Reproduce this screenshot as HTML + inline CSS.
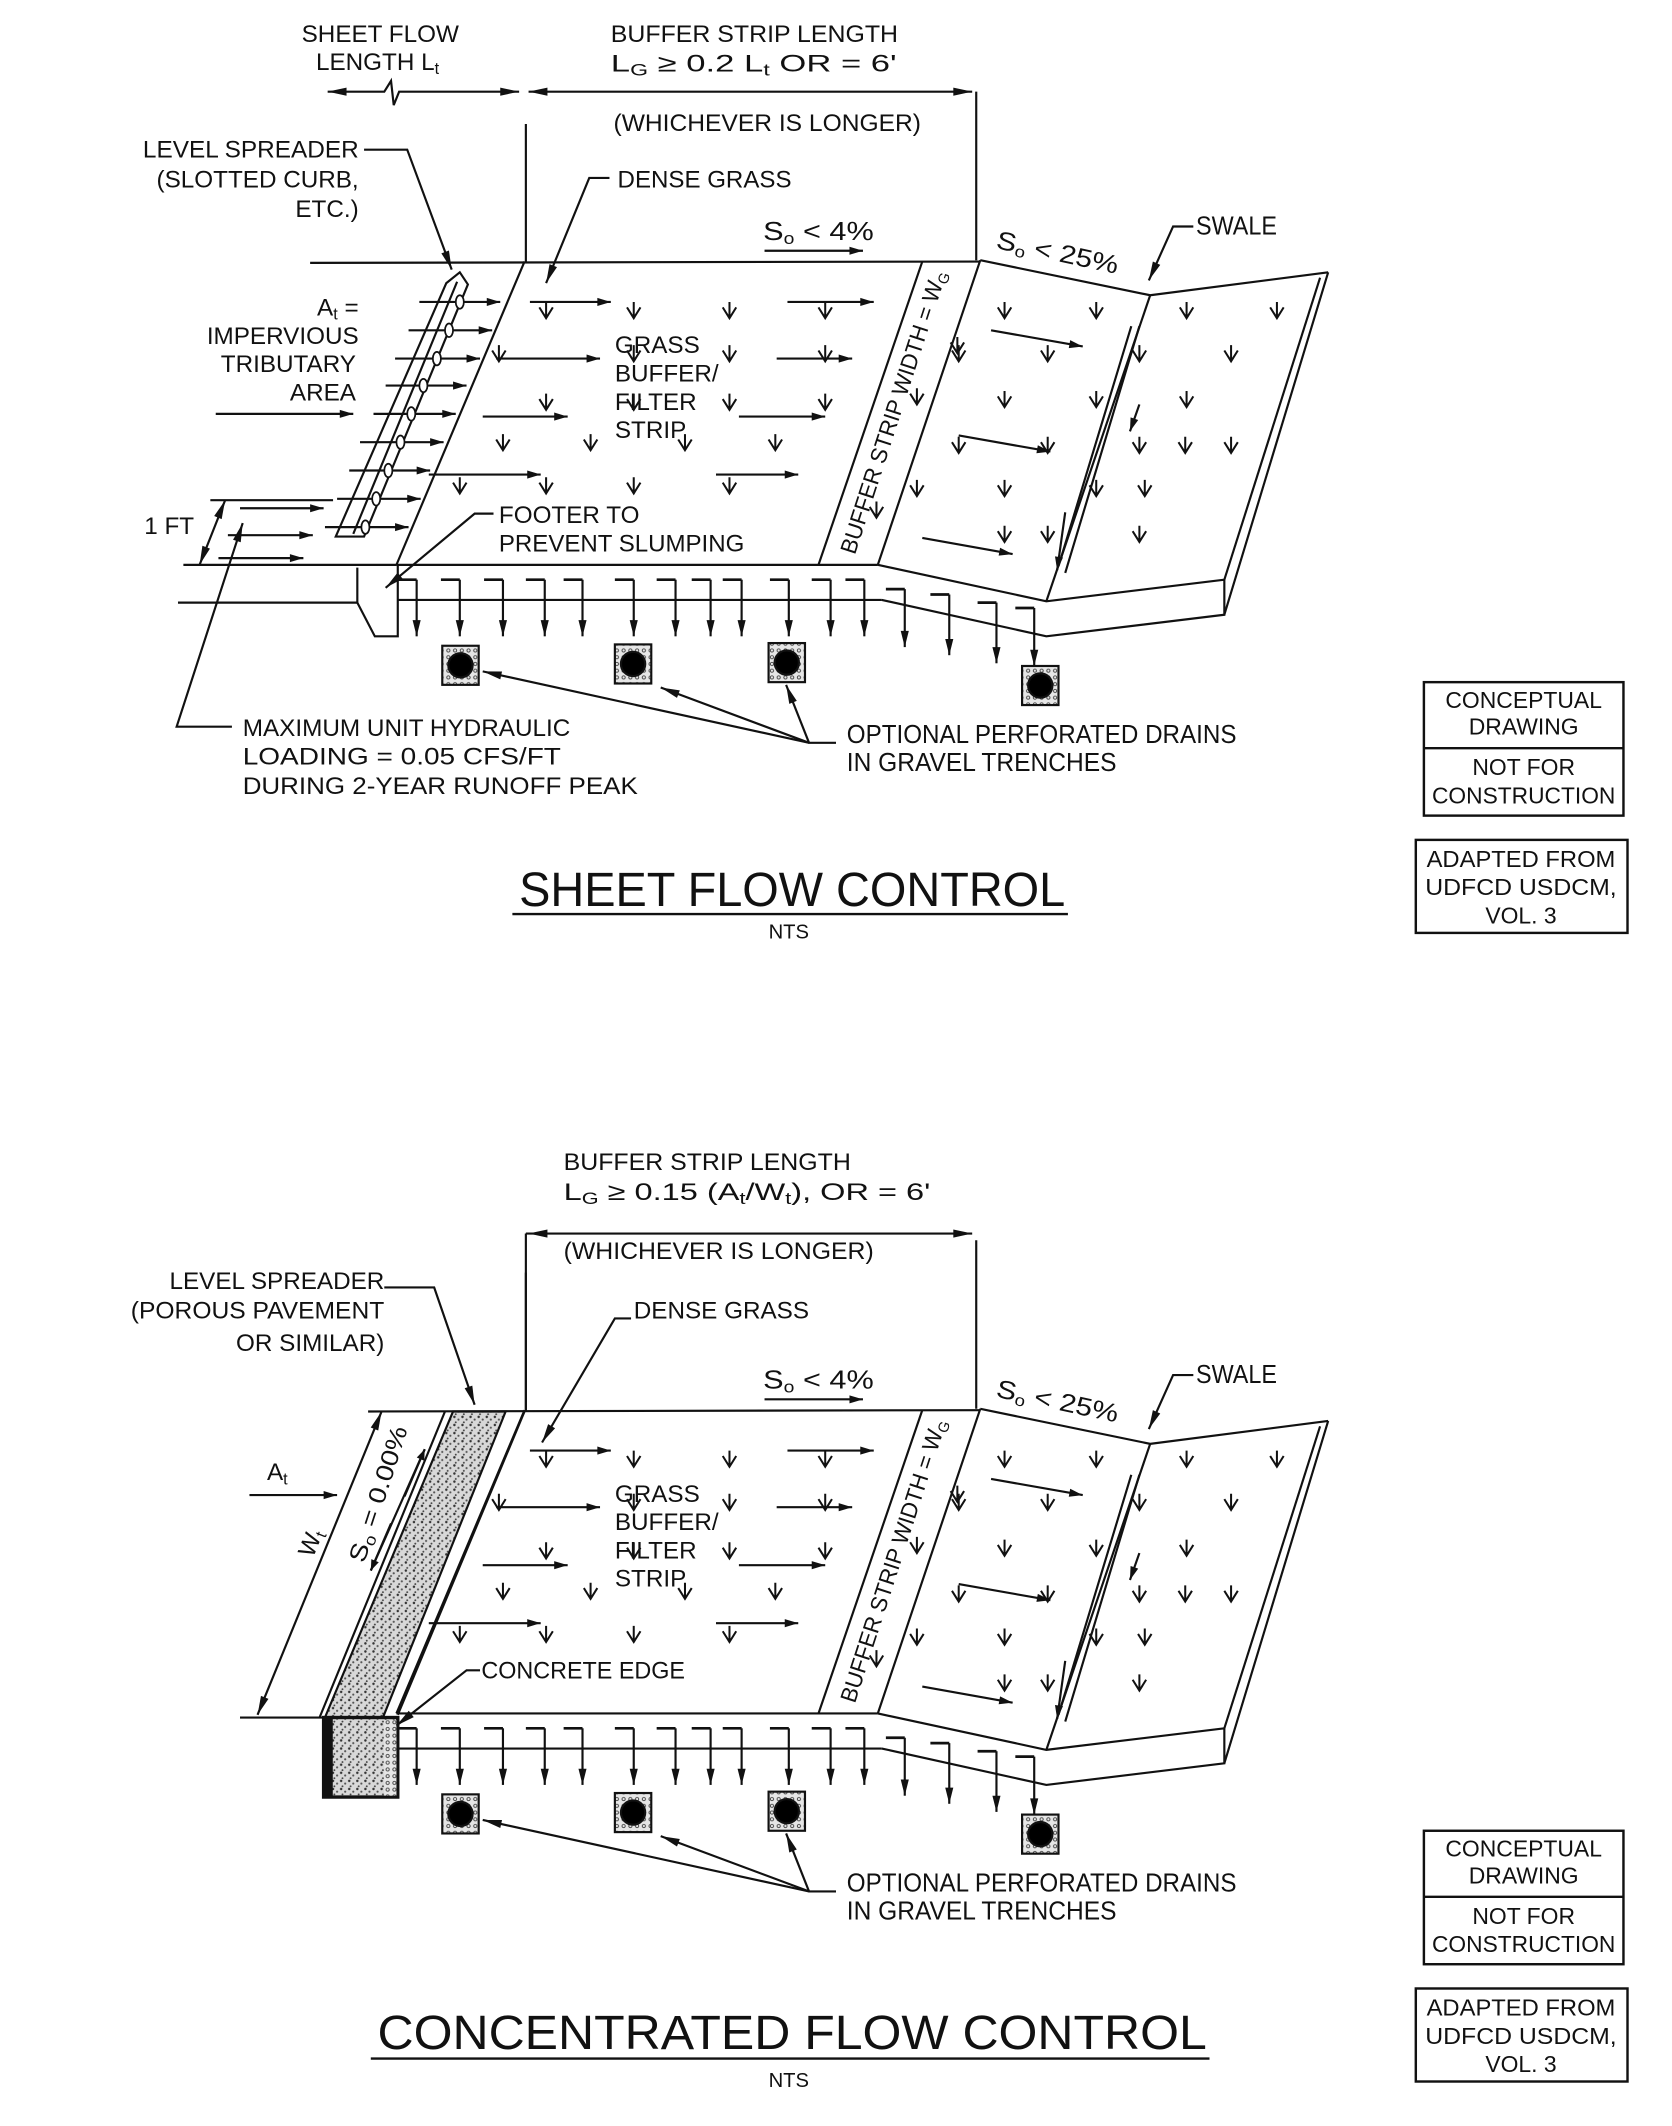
<!DOCTYPE html>
<html><head><meta charset="utf-8"><style>
html,body{margin:0;padding:0;background:#fff;}
svg{display:block;}
text{font-family:"Liberation Sans Narrow","Liberation Sans",sans-serif;fill:#111;}
</style></head><body>
<svg id="s" width="1672" height="2126" viewBox="0 0 1240 1577" preserveAspectRatio="none" xmlns="http://www.w3.org/2000/svg">
<defs>
<pattern id="st" width="6" height="6" patternUnits="userSpaceOnUse">
<rect width="6" height="6" fill="#d8d8d8"/>
<circle cx="1" cy="1" r="0.9" fill="#333"/><circle cx="4" cy="3" r="0.8" fill="#555"/><circle cx="2" cy="5" r="0.7" fill="#444"/>
</pattern>
<pattern id="gv" width="5" height="5" patternUnits="userSpaceOnUse">
<rect width="5" height="5" fill="#e6e6e6"/><circle cx="2.5" cy="2.5" r="1.2" fill="none" stroke="#444" stroke-width="0.7"/>
</pattern>
</defs>
<g id="shared" stroke="#111" stroke-width="1.6" fill="none">
<!-- grass strip & buffer lines -->
<line x1="389" y1="194" x2="294" y2="419"/>
<line x1="684" y1="194" x2="607" y2="419"/>
<line x1="727" y1="193" x2="651" y2="419"/>
<!-- swale -->
<polyline points="727,193 853,219 985,202"/>
<line x1="853" y1="219" x2="776" y2="446"/>
<line x1="985" y1="202" x2="908" y2="456"/>
<line x1="979" y1="206" x2="908" y2="430"/>
<polyline points="651,419 776,446 908,430 908,456 776,472 654,445"/>
<!-- ground -->
<line x1="294" y1="419" x2="651" y2="419"/>
<line x1="295" y1="445" x2="654" y2="445"/>
<!-- dim verticals -->
<line x1="390" y1="92" x2="390" y2="194"/>
<line x1="724" y1="68" x2="724" y2="193"/>
<!-- swale long arrow pair -->
<line x1="845" y1="242" x2="790" y2="425"/>
<line x1="839" y1="242" x2="785" y2="420"/>
<!-- drains -->
<g id="drains">
<rect x="328" y="479" width="27" height="29" fill="url(#gv)"/><circle cx="341.5" cy="493.5" r="9" fill="#000"/>
<rect x="456" y="478" width="27" height="29" fill="url(#gv)"/><circle cx="469.5" cy="492.5" r="9" fill="#000"/>
<rect x="570" y="477" width="27" height="29" fill="url(#gv)"/><circle cx="583.5" cy="491.5" r="9" fill="#000"/>
<rect x="758" y="494" width="27" height="29" fill="url(#gv)"/><circle cx="771.5" cy="508.5" r="9" fill="#000"/>
</g>
<!-- stamps -->
<rect x="1056" y="506" width="148" height="99" stroke-width="1.8"/>
<line x1="1056" y1="555" x2="1204" y2="555" stroke-width="1.8"/>
<rect x="1050" y="623" width="157" height="69" stroke-width="1.8"/>
</g>
<g id="sharedText" stroke="none">
<text x="566" y="178" font-size="19" textLength="82" lengthAdjust="spacingAndGlyphs">S<tspan font-size="12" dy="3">o</tspan><tspan dy="-3"> &lt; 4%</tspan></text>
<text x="738" y="184" font-size="19" transform="rotate(12 738 184)" textLength="92" lengthAdjust="spacingAndGlyphs">S<tspan font-size="12" dy="3">o</tspan><tspan dy="-3"> &lt; 25%</tspan></text>
<text x="887" y="174" font-size="19" textLength="60" lengthAdjust="spacingAndGlyphs">SWALE</text>
<text x="456" y="262" font-size="18">GRASS</text>
<text x="456" y="283" font-size="18">BUFFER/</text>
<text x="456" y="304" font-size="18">FILTER</text>
<text x="456" y="325" font-size="18">STRIP</text>
<text x="0" y="0" font-size="17" transform="translate(634,412) rotate(-72)" textLength="220" lengthAdjust="spacingAndGlyphs">BUFFER STRIP WIDTH = W<tspan font-size="11" dy="3">G</tspan></text>
<text x="628" y="551" font-size="19" textLength="289" lengthAdjust="spacingAndGlyphs">OPTIONAL PERFORATED DRAINS</text>
<text x="628" y="572" font-size="19" textLength="200" lengthAdjust="spacingAndGlyphs">IN GRAVEL TRENCHES</text>
<text x="1130" y="525" font-size="17" text-anchor="middle">CONCEPTUAL</text>
<text x="1130" y="545" font-size="17" text-anchor="middle">DRAWING</text>
<text x="1130" y="575" font-size="17" text-anchor="middle">NOT FOR</text>
<text x="1130" y="596" font-size="17" text-anchor="middle" textLength="136" lengthAdjust="spacingAndGlyphs">CONSTRUCTION</text>
<text x="1128" y="643" font-size="17" text-anchor="middle" textLength="140" lengthAdjust="spacingAndGlyphs">ADAPTED FROM</text>
<text x="1128" y="664" font-size="17" text-anchor="middle" textLength="142" lengthAdjust="spacingAndGlyphs">UDFCD USDCM,</text>
<text x="1128" y="685" font-size="17" text-anchor="middle">VOL. 3</text>
<text x="585" y="696" font-size="15" text-anchor="middle">NTS</text>
</g>
<g id="sharedArr"></g>

<!-- TOP SPECIFIC -->
<g stroke="#111" stroke-width="1.6" fill="none">
<line x1="230" y1="195" x2="727" y2="194"/>
<polygon points="331,210 341,202 347,211 270,398 249,398"/>
<line x1="339" y1="209" x2="262" y2="396"/>
<line x1="136" y1="419" x2="294" y2="419"/>
<polyline points="132,447 265,447 265,421"/>
<polyline points="265,447 278,472 295,472 295,419"/>
<line x1="156" y1="371" x2="247" y2="371"/>
<polyline points="270,111 302,111 335,200"/>
<polyline points="452,132 437,132 405,210"/>
<polyline points="366,381 352,381 286,436"/>
<polyline points="172,539 131,539 180,388"/>
<polyline points="620,551 600,551 358,498"/>
<line x1="600" y1="551" x2="490" y2="510"/>
<line x1="600" y1="551" x2="583" y2="508"/>
<polyline points="243,68 285,68 290,60 292,78 296,68 385,68"/>
<line x1="392" y1="68" x2="721" y2="68"/>
<line x1="380" y1="678" x2="792" y2="678" stroke-width="1.8"/>
</g>
<g id="topArr"></g>
<g stroke="none">
<text x="282" y="31" font-size="18" text-anchor="middle">SHEET FLOW</text>
<text x="280" y="52" font-size="18" text-anchor="middle">LENGTH L<tspan font-size="12" dy="3">t</tspan></text>
<text x="453" y="31" font-size="18" textLength="213" lengthAdjust="spacingAndGlyphs">BUFFER STRIP LENGTH</text>
<text x="453" y="53" font-size="18" textLength="212" lengthAdjust="spacingAndGlyphs">L<tspan font-size="12" dy="3">G</tspan><tspan dy="-3"> ≥ 0.2 L</tspan><tspan font-size="12" dy="3">t</tspan><tspan dy="-3"> OR = 6'</tspan></text>
<text x="455" y="97" font-size="18" textLength="228" lengthAdjust="spacingAndGlyphs">(WHICHEVER IS LONGER)</text>
<text x="106" y="117" font-size="18" textLength="160" lengthAdjust="spacingAndGlyphs">LEVEL SPREADER</text>
<text x="266" y="139" font-size="18" text-anchor="end">(SLOTTED CURB,</text>
<text x="266" y="161" font-size="18" text-anchor="end">ETC.)</text>
<text x="458" y="139" font-size="18" textLength="129" lengthAdjust="spacingAndGlyphs">DENSE GRASS</text>
<text x="266" y="234" font-size="18" text-anchor="end">A<tspan font-size="12" dy="3">t</tspan><tspan dy="-3"> =</tspan></text>
<text x="266" y="255" font-size="18" text-anchor="end">IMPERVIOUS</text>
<text x="264" y="276" font-size="18" text-anchor="end">TRIBUTARY</text>
<text x="264" y="297" font-size="18" text-anchor="end">AREA</text>
<text x="107" y="396" font-size="18">1 FT</text>
<text x="370" y="388" font-size="18">FOOTER TO</text>
<text x="370" y="409" font-size="18" textLength="182" lengthAdjust="spacingAndGlyphs">PREVENT SLUMPING</text>
<text x="180" y="546" font-size="18" textLength="243" lengthAdjust="spacingAndGlyphs">MAXIMUM UNIT HYDRAULIC</text>
<text x="180" y="567" font-size="18" textLength="236" lengthAdjust="spacingAndGlyphs">LOADING = 0.05 CFS/FT</text>
<text x="180" y="589" font-size="18" textLength="293" lengthAdjust="spacingAndGlyphs">DURING 2-YEAR RUNOFF PEAK</text>
<text x="385" y="672" font-size="36" textLength="405" lengthAdjust="spacingAndGlyphs" font-family="Liberation Sans" style="font-weight:300">SHEET FLOW CONTROL</text>
</g>

<!-- BOTTOM -->
<use href="#shared" transform="translate(0,852)"/>
<use href="#sharedText" transform="translate(0,852)"/>
<use href="#sharedArr" transform="translate(0,852)"/>
<g stroke="#111" stroke-width="1.6" fill="none">
<line x1="273" y1="1047" x2="727" y2="1046"/>
<polygon points="336,1047 375,1047 284,1274 241,1274" fill="url(#st)"/>
<line x1="330" y1="1047" x2="237" y2="1274"/>
<line x1="389" y1="1047" x2="295" y2="1272"/>
<rect x="240" y="1274" width="55" height="59" fill="url(#st)" stroke-width="2.5"/>
<rect x="240" y="1274" width="6" height="59" fill="#111"/>
<rect x="285" y="1276" width="9" height="56" fill="url(#gv)" stroke="none"/>
<line x1="178" y1="1274" x2="240" y2="1274"/>
<line x1="283" y1="1047" x2="191" y2="1272"/>
<line x1="315" y1="1075" x2="275" y2="1165"/>
<polyline points="356,1239 346,1239 294,1280"/>
<polyline points="285,955 322,955 352,1042"/>
<polyline points="468,978 456,978 402,1070"/>
<line x1="390" y1="915" x2="721" y2="915"/>
<line x1="390" y1="915" x2="390" y2="1047"/>
<polyline points="620,1403 600,1403 358,1350"/>
<line x1="600" y1="1403" x2="490" y2="1362"/>
<line x1="600" y1="1403" x2="583" y2="1360"/>
<line x1="275" y1="1527" x2="897" y2="1527" stroke-width="1.8"/>
</g>
<g id="botArr"></g>
<g stroke="none">
<text x="418" y="868" font-size="18" textLength="213" lengthAdjust="spacingAndGlyphs">BUFFER STRIP LENGTH</text>
<text x="418" y="890" font-size="18" textLength="272" lengthAdjust="spacingAndGlyphs">L<tspan font-size="12" dy="3">G</tspan><tspan dy="-3"> ≥ 0.15 (A</tspan><tspan font-size="12" dy="3">t</tspan><tspan dy="-3">/W</tspan><tspan font-size="12" dy="3">t</tspan><tspan dy="-3">), OR = 6'</tspan></text>
<text x="418" y="934" font-size="18" textLength="230" lengthAdjust="spacingAndGlyphs">(WHICHEVER IS LONGER)</text>
<text x="285" y="956" font-size="18" text-anchor="end">LEVEL SPREADER</text>
<text x="285" y="978" font-size="18" text-anchor="end" textLength="188" lengthAdjust="spacingAndGlyphs">(POROUS PAVEMENT</text>
<text x="285" y="1002" font-size="18" text-anchor="end">OR SIMILAR)</text>
<text x="470" y="978" font-size="18" textLength="130" lengthAdjust="spacingAndGlyphs">DENSE GRASS</text>
<text x="198" y="1098" font-size="18">A<tspan font-size="12" dy="3">t</tspan></text>
<text x="0" y="0" font-size="18" transform="translate(232,1156) rotate(-68)">W<tspan font-size="12" dy="3">t</tspan></text>
<text x="0" y="0" font-size="18" transform="translate(270,1160) rotate(-72)" textLength="105" lengthAdjust="spacingAndGlyphs">S<tspan font-size="12" dy="3">o</tspan><tspan dy="-3"> = 0.00%</tspan></text>
<text x="357" y="1245" font-size="18" textLength="151" lengthAdjust="spacingAndGlyphs">CONCRETE EDGE</text>
<text x="280" y="1520" font-size="36" textLength="615" lengthAdjust="spacingAndGlyphs" font-family="Liberation Sans">CONCENTRATED   FLOW   CONTROL</text>
</g>
<script>
(function(){
var NS="http://www.w3.org/2000/svg";
function arr(g,x1,y1,x2,y2,hl,hw){hl=hl||10;hw=hw||3;
 var l=document.createElementNS(NS,"line");l.setAttribute("x1",x1);l.setAttribute("y1",y1);l.setAttribute("x2",x2);l.setAttribute("y2",y2);
 l.setAttribute("stroke","#111");l.setAttribute("stroke-width","1.6");g.appendChild(l);
 var dx=x2-x1,dy=y2-y1,d=Math.hypot(dx,dy),ux=dx/d,uy=dy/d;
 var bx=x2-ux*hl,by=y2-uy*hl;
 var p=document.createElementNS(NS,"polygon");
 p.setAttribute("points",x2+","+y2+" "+(bx-uy*hw)+","+(by+ux*hw)+" "+(bx+uy*hw)+","+(by-ux*hw));
 p.setAttribute("fill","#111");g.appendChild(p);}
function v(g,x,y){var p=document.createElementNS(NS,"path");
 p.setAttribute("d","M"+x+","+(y-8)+"V"+(y+4)+"M"+(x-5)+","+(y-4)+"L"+x+","+(y+4)+"L"+(x+5)+","+(y-4));
 p.setAttribute("stroke","#111");p.setAttribute("stroke-width","1.5");p.setAttribute("fill","none");g.appendChild(p);}
var S=document.getElementById("sharedArr"),T=document.getElementById("topArr"),B=document.getElementById("botArr");
// field horizontals
[[393,224,453,224],[584,224,648,224],[368,266,445,266],[576,266,632,266],[358,309,421,309],[548,309,612,309],[318,352,401,352],[531,352,592,352],
 [735,245,803,257],[711,323,779,335],[684,399,751,411]].forEach(function(a){arr(S,a[0],a[1],a[2],a[3]);});
arr(S,845,300,838,320,10,3);arr(S,790,380,784,423,10,3);
[[405,232],[470,232],[541,232],[612,232],[370,264],[470,264],[541,264],[612,264],[405,300],[470,300],[541,300],[612,300],
 [373,330],[438,330],[508,330],[575,330],[341,362],[405,362],[470,362],[541,362],
 [680,296],[710,258],[650,380],
 [745,232],[813,232],[880,232],[947,232],[711,264],[777,264],[845,264],[913,264],[745,298],[813,298],[880,298],[913,332],
 [711,332],[777,332],[845,332],[879,332],[680,364],[745,364],[813,364],[849,364],[777,398],[845,398],[745,398]].forEach(function(a){v(S,a[0],a[1]);});
// below ground drops
[[309,430,472],[341,430,472],[373,430,472],[404,430,472],[432,430,472],[470,430,472],[501,430,472],[527,430,472],[550,430,472],[585,430,472],[616,430,472],[641,430,472],[671,437,480],[704,441,486],[739,447,492],[767,451,494]].forEach(function(a){
 var p=document.createElementNS(NS,"path");p.setAttribute("d","M"+(a[0]-14)+","+a[1]+"H"+a[0]);p.setAttribute("stroke","#111");p.setAttribute("stroke-width","2");S.appendChild(p);
 arr(S,a[0],a[1],a[0],a[2],12,3);});
// drain leaders arrowheads
function ah(g,x1,y1,x2,y2){var dx=x2-x1,dy=y2-y1,d=Math.hypot(dx,dy),ux=dx/d,uy=dy/d,bx=x2-ux*14,by=y2-uy*14;
 var p=document.createElementNS(NS,"polygon");p.setAttribute("points",x2+","+y2+" "+(bx-uy*3)+","+(by+ux*3)+" "+(bx+uy*3)+","+(by-ux*3));p.setAttribute("fill","#111");g.appendChild(p);}
ah(T,600,551,358,498);ah(T,600,551,490,510);ah(T,600,551,583,508);
ah(B,600,1403,358,1350);ah(B,600,1403,490,1362);ah(B,600,1403,583,1360);
// dims
ah(T,300,68,243,68);ah(T,330,68,385,68);ah(T,500,68,392,68);ah(T,600,68,721,68);
ah(B,500,915,392,915);ah(B,600,915,721,915);
arr(T,567,186,640,186,10,3);arr(B,567,1038,640,1038,10,3);
ah(T,302,111,335,200);ah(T,437,132,405,210);ah(T,352,381,286,436);ah(T,131,539,180,388);
ah(B,322,955,352,1042);ah(B,456,978,402,1070);ah(B,346,1239,294,1280);
ah(T,870,168,852,208);ah(B,870,1020,852,1060);
var sw=document.createElementNS(NS,"polyline");sw.setAttribute("points","885,168 870,168 852,208");sw.setAttribute("fill","none");sw.setAttribute("stroke","#111");sw.setAttribute("stroke-width","1.6");T.appendChild(sw);
var sw2=sw.cloneNode();sw2.setAttribute("points","885,1020 870,1020 852,1060");B.appendChild(sw2);
// top left arrows
var ys=[224,245,266,286,307,328,349,370,391],xs=[311,303,293,286,277,267,259,250,241],xe=[371,365,356,346,338,329,319,312,303];
for(var i=0;i<9;i++){arr(T,xs[i],ys[i],xe[i],ys[i]);var c=document.createElementNS(NS,"ellipse");var cx=[341,333,324,314,305,297,288,279,271][i];
 c.setAttribute("cx",cx);c.setAttribute("cy",ys[i]);c.setAttribute("rx",3);c.setAttribute("ry",5);c.setAttribute("fill","#fff");c.setAttribute("stroke","#111");c.setAttribute("stroke-width","1.3");T.appendChild(c);}
arr(T,160,307,262,307);arr(T,178,377,240,377);arr(T,169,397,232,397);arr(T,162,414,225,414);
ah(T,157,395,167,371);ah(T,157,395,148,419);
var dl=document.createElementNS(NS,"line");dl.setAttribute("x1",167);dl.setAttribute("y1",371);dl.setAttribute("x2",148);dl.setAttribute("y2",419);dl.setAttribute("stroke","#111");dl.setAttribute("stroke-width","1.6");T.appendChild(dl);
// bottom left
arr(B,185,1109,250,1109);ah(B,237,1160,283,1047);ah(B,237,1160,191,1272);
arr(B,300,1110,315,1075,8,3);arr(B,290,1130,275,1165,8,3);
})();
</script>
</svg>
</body></html>
